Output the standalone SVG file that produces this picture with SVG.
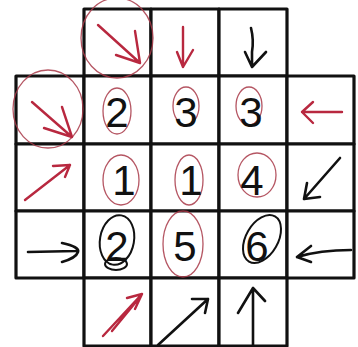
<svg xmlns="http://www.w3.org/2000/svg" width="358" height="347" viewBox="0 0 358 347">
<style>
.cell{fill:#fff;stroke:#111;stroke-width:3.2;stroke-linejoin:round}
.num{font-family:"Liberation Sans",Arial,sans-serif;font-size:42px;fill:#111;text-anchor:middle}
.ra{fill:none;stroke:#b8283f;stroke-width:2.4;stroke-linecap:round;stroke-linejoin:round}
.ba{fill:none;stroke:#111;stroke-width:2.6;stroke-linecap:round;stroke-linejoin:round}
.rc{fill:none;stroke:#a83848;stroke-width:1.3;opacity:0.85}
.bc{fill:none;stroke:#111;stroke-width:2}
</style>
<rect width="358" height="347" fill="#fff"/>
<g id="grid">
<rect class="cell" x="84" y="9" width="67" height="67"/>
<rect class="cell" x="151" y="9" width="68" height="67"/>
<rect class="cell" x="219" y="9" width="68" height="67"/>
<rect class="cell" x="16" y="76" width="68" height="68"/>
<rect class="cell" x="84" y="76" width="67" height="68"/>
<rect class="cell" x="151" y="76" width="68" height="68"/>
<rect class="cell" x="219" y="76" width="68" height="68"/>
<rect class="cell" x="287" y="76" width="67" height="68"/>
<rect class="cell" x="16" y="144" width="68" height="67"/>
<rect class="cell" x="84" y="144" width="67" height="67"/>
<rect class="cell" x="151" y="144" width="68" height="67"/>
<rect class="cell" x="219" y="144" width="68" height="67"/>
<rect class="cell" x="287" y="144" width="67" height="67"/>
<rect class="cell" x="16" y="211" width="68" height="67"/>
<rect class="cell" x="84" y="211" width="67" height="67"/>
<rect class="cell" x="151" y="211" width="68" height="67"/>
<rect class="cell" x="219" y="211" width="68" height="67"/>
<rect class="cell" x="287" y="211" width="67" height="67"/>
<rect class="cell" x="84" y="278" width="67" height="68"/>
<rect class="cell" x="151" y="278" width="68" height="68"/>
<rect class="cell" x="219" y="278" width="68" height="68"/>
</g>
<g id="clue-top-1">
<ellipse class="rc" cx="117" cy="38" rx="36" ry="40"/>
<path class="ra" d="M98 25 L140 63 M140 63 L116 55 M140 63 L135 31"/>
</g>
<g id="clue-top-2">
<path class="ra" d="M183 27 L183 67 M183 67 L177 52 M183 67 L193 50"/>
</g>
<g id="clue-top-3">
<path class="ba" d="M251 28 Q254 40 252 52 L252 67 M252 67 L245 52 M252 67 L266 52"/>
</g>
<g id="clue-left-1">
<ellipse class="rc" cx="48" cy="109" rx="35" ry="39"/>
<path class="ra" d="M32 102 L72 137 M72 137 L44 128 M72 137 L62 107"/>
</g>
<g id="clue-left-2">
<path class="ra" d="M25 200 L70 165 M70 165 L53 166 M70 165 L65 177"/>
</g>
<g id="clue-left-3">
<path class="ba" d="M28 252 L76 251 M62 243 Q80 247 78 252 Q76 258 62 262"/>
</g>
<g id="clue-right-1">
<path class="ra" d="M342 112 L302 112 M302 112 L313 102 M302 112 L313 123"/>
</g>
<g id="clue-right-2">
<path class="ba" d="M340 158 L304 199 M304 199 L307 183 M304 199 L320 197"/>
</g>
<g id="clue-right-3">
<path class="ba" d="M351 250 Q320 250 297 257 M297 257 L311 246 M297 257 L311 262"/>
</g>
<g id="clue-bottom-1">
<path class="ra" d="M103 336 L142 294 M112 331 L140 297 M142 294 L127 298 M142 294 L135 309"/>
</g>
<g id="clue-bottom-2">
<path class="ba" d="M158 345 L208 299 M208 299 L192 299 M208 299 L205 313"/>
</g>
<g id="clue-bottom-3">
<path class="ba" d="M253 346 L253 288 M253 288 L238 313 M253 288 L265 301"/>
</g>
<g id="r2c1"><ellipse class="rc" cx="117" cy="111" rx="14" ry="23"/><text class="num" x="117" y="127">2</text></g>
<g id="r2c2"><ellipse class="rc" cx="186" cy="106" rx="13" ry="19"/><text class="num" x="186" y="127">3</text></g>
<g id="r2c3"><ellipse class="rc" cx="249" cy="106" rx="13" ry="19"/><text class="num" x="251" y="127">3</text></g>
<g id="r3c1"><ellipse class="rc" cx="121" cy="180" rx="18" ry="25"/><text class="num" x="124" y="195">1</text></g>
<g id="r3c2"><ellipse class="rc" cx="189" cy="180" rx="14" ry="25"/><text class="num" x="191" y="195">1</text></g>
<g id="r3c3"><ellipse class="rc" cx="257" cy="175" rx="19" ry="22"/><text class="num" x="252" y="195">4</text></g>
<g id="r4c1"><ellipse class="bc" cx="117" cy="240" rx="17" ry="25" transform="rotate(10 117 240)"/><ellipse class="bc" cx="116" cy="264" rx="11" ry="6"/><text class="num" x="117" y="261">2</text></g>
<g id="r4c2"><ellipse class="rc" cx="183" cy="244" rx="20" ry="33"/><text class="num" x="185" y="261">5</text></g>
<g id="r4c3"><ellipse class="bc" cx="262" cy="239" rx="16" ry="26" transform="rotate(30 262 239)"/><text class="num" x="257" y="261">6</text></g>
</svg>
